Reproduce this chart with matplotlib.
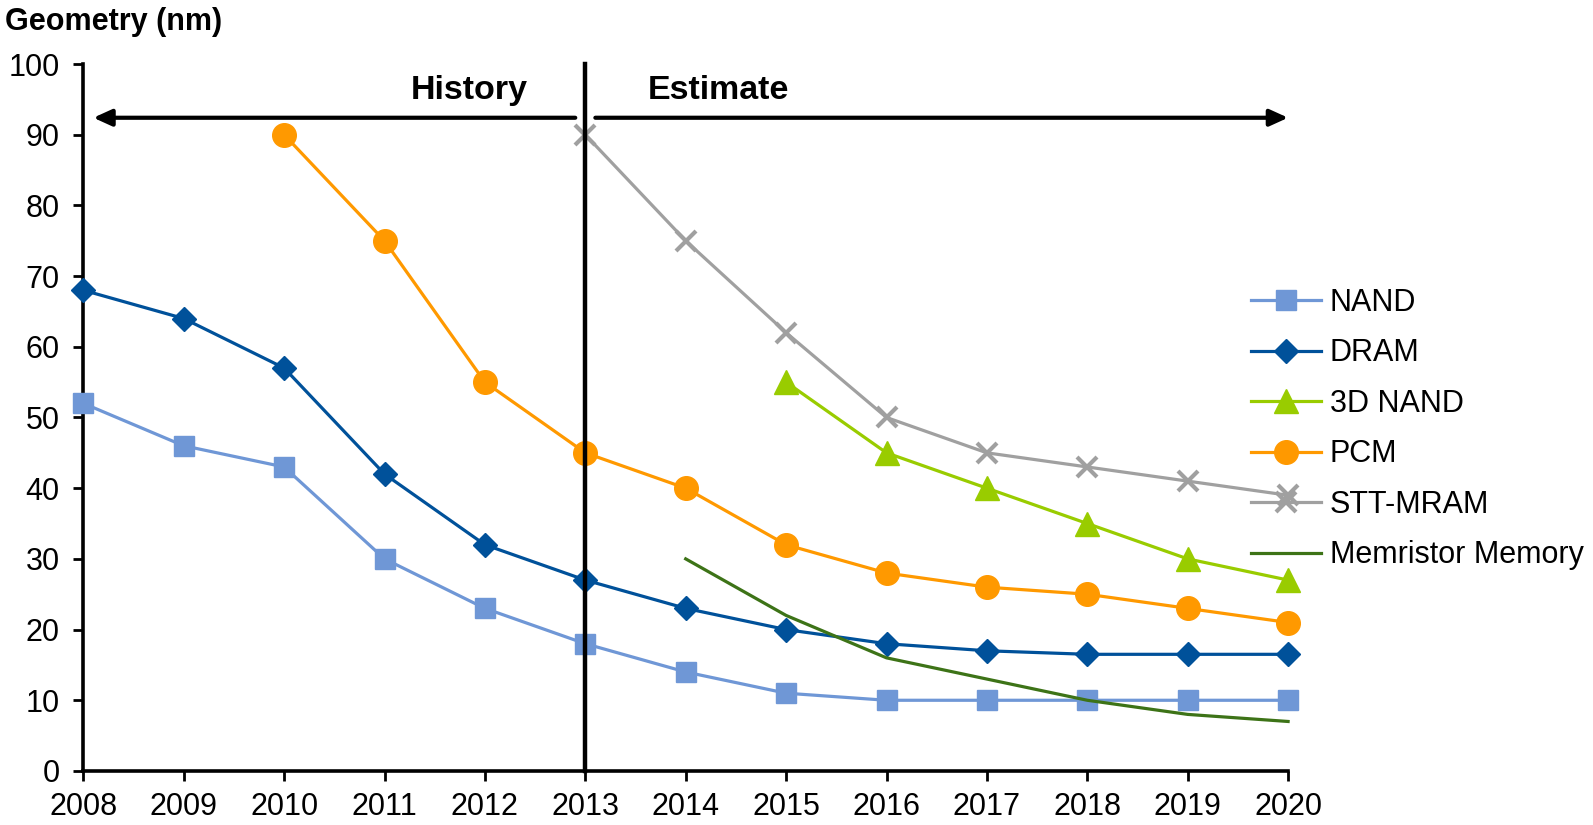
import matplotlib
matplotlib.use("Agg")
import matplotlib.pyplot as plt

plt.rcParams['font.family'] = ['Liberation Sans', 'DejaVu Sans']

years = list(range(2008, 2021))

nand_years = years
nand = [52, 46, 43, 30, 23, 18, 14, 11, 10, 10, 10, 10, 10]

dram_years = years
dram = [68, 64, 57, 42, 32, 27, 23, 20, 18, 17, 16.5, 16.5, 16.5]

nand3d_years = [2015, 2016, 2017, 2018, 2019, 2020]
nand3d = [55, 45, 40, 35, 30, 27]

pcm_years = list(range(2010, 2021))
pcm = [90, 75, 55, 45, 40, 32, 28, 26, 25, 23, 21]

stt_years = list(range(2013, 2021))
stt = [90, 75, 62, 50, 45, 43, 41, 39]

memristor_years = list(range(2014, 2021))
memristor = [30, 22, 16, 13, 10, 8, 7]

y_ticks = list(range(0, 101, 10))
split_year = 2013

fig = plt.figure(figsize=(15.93, 8.25), dpi=100)
ax = fig.add_axes([0.0523, 0.0655, 0.7563, 0.8569])

lw = 2.3
ax.plot(nand_years, nand, color='#6F97D6', lw=lw, marker='s', ms=14.5,
        label='NAND', clip_on=False, zorder=5)
ax.plot(dram_years, dram, color='#00519A', lw=lw, marker='D', ms=12.5,
        label='DRAM', clip_on=False, zorder=5)
ax.plot(nand3d_years, nand3d, color='#99CC00', lw=lw, marker='^', ms=17,
        label='3D NAND', clip_on=False, zorder=5)
ax.plot(pcm_years, pcm, color='#FF9900', lw=lw, marker='o', ms=17,
        label='PCM', clip_on=False, zorder=5)
ax.plot(stt_years, stt, color='#A0A0A0', lw=lw, marker='x', ms=15, mew=3,
        label='STT-MRAM', clip_on=False, zorder=5)
ax.plot(memristor_years, memristor, color='#3D7317', lw=lw,
        label='Memristor Memory', clip_on=False, zorder=5)

ax.set_xlim(2008, 2020)
ax.set_ylim(0, 100)
ax.set_xticks(years)
ax.set_yticks(y_ticks)
ax.tick_params(axis='both', labelsize=22, width=2, length=7, direction='out')
ax.tick_params(axis='x', pad=8)
ax.tick_params(axis='y', pad=10)
for s in ['top', 'right']:
    ax.spines[s].set_visible(False)
for s in ['left', 'bottom']:
    ax.spines[s].set_linewidth(2.6)

# divider between history and estimate
ax.plot([split_year, split_year], [0, 100], color='black', lw=3.2, zorder=6,
        clip_on=False)

arrow_y = 92.4
head = '-|>,head_length=1.1,head_width=0.5'
ax.annotate('', xy=(2008.1, arrow_y), xytext=(2012.9, arrow_y),
            arrowprops=dict(arrowstyle=head, color='black', lw=3,
                            shrinkA=0, shrinkB=0))
ax.annotate('', xy=(2020.0, arrow_y), xytext=(2013.1, arrow_y),
            arrowprops=dict(arrowstyle=head, color='black', lw=3,
                            shrinkA=0, shrinkB=0))
ax.text(2011.84, 96.2, 'History', fontsize=24.5, fontweight='bold',
        ha='center', va='center')
ax.text(2014.33, 96.2, 'Estimate', fontsize=24.5, fontweight='bold',
        ha='center', va='center')

fig.text(0.003, 0.973, 'Geometry (nm)', fontsize=22, fontweight='bold',
         ha='left', va='center')

ax.legend(loc='upper left', bbox_to_anchor=(0.785, 0.651),
          bbox_transform=fig.transFigure, frameon=False, fontsize=22,
          handlelength=2.3, handletextpad=0.3, labelspacing=0.67,
          borderpad=0, borderaxespad=0)

fig.savefig('out.png', dpi=100)
